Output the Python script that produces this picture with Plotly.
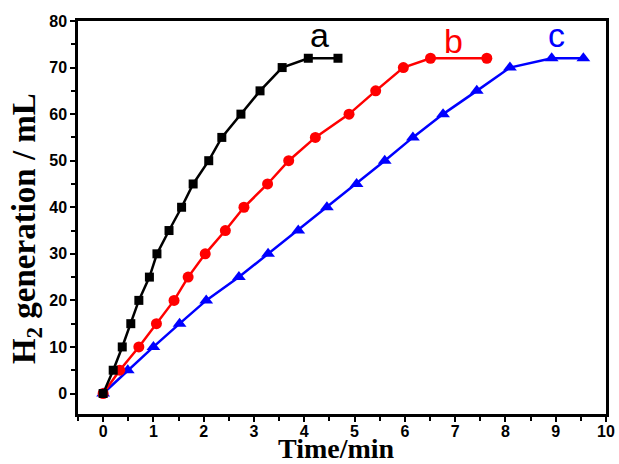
import plotly.graph_objects as go

y_vals = [0, 5, 10, 15, 20, 25, 30, 35, 40, 45, 50, 55, 60, 65, 70, 72, 72]
x_a = [0, 0.2, 0.38, 0.55, 0.71, 0.92, 1.07, 1.31, 1.56, 1.79, 2.1, 2.36, 2.74, 3.12, 3.56, 4.08, 4.67]
x_b = [0, 0.33, 0.71, 1.06, 1.41, 1.69, 2.03, 2.43, 2.8, 3.27, 3.69, 4.22, 4.89, 5.42, 5.97, 6.51, 7.63]
x_c = [0, 0.49, 1.0, 1.52, 2.05, 2.7, 3.28, 3.88, 4.45, 5.04, 5.6, 6.16, 6.76, 7.43, 8.09, 8.92, 9.55]

labels = ["a", "b", "c"]
label_x = [4.31, 6.97, 9.02]
label_y = [76.9, 75.8, 77.1]
colors = ["black", "red", "blue"]

fig = go.Figure()
fig.add_trace(go.Scatter(x=x_c, y=y_vals, mode="lines+markers",
                         line=dict(color="blue", width=2.5),
                         marker=dict(symbol="triangle-up", size=12, color="blue")))
fig.add_trace(go.Scatter(x=x_b, y=y_vals, mode="lines+markers",
                         line=dict(color="red", width=2.5),
                         marker=dict(symbol="circle", size=11, color="red")))
fig.add_trace(go.Scatter(x=x_a, y=y_vals, mode="lines+markers",
                         line=dict(color="black", width=2.5),
                         marker=dict(symbol="square", size=9, color="black")))

for t, lx, ly, c in zip(labels, label_x, label_y, colors):
    fig.add_annotation(x=lx, y=ly, text=t, showarrow=False,
                       font=dict(family="Liberation Sans, Arial", size=34, color=c))

title_font = dict(family="Liberation Serif, Times New Roman", color="black", weight="bold")

# y-axis title placed as rotated annotation
fig.add_annotation(x=-0.0985, y=0.473, xref="paper", yref="paper",
                   text="H<sub>2</sub> generation / mL", textangle=-90, showarrow=False,
                   xanchor="center", yanchor="middle",
                   font=dict(size=33, **title_font))

# x-axis title placed as annotation
fig.add_annotation(x=0.489, y=0, xref="paper", yref="paper",
                   text="Time/min", showarrow=False,
                   xanchor="center", yanchor="top", yshift=-17,
                   font=dict(size=28, **title_font))

axis_common = dict(showgrid=False, zeroline=False, showline=True, linecolor="black",
                   linewidth=2.5, mirror=True, ticks="outside", tickwidth=2, ticklen=5,
                   tickcolor="black", automargin=False,
                   tickfont=dict(family="Liberation Sans, Arial", size=16, color="black",
                                 weight="bold"))

fig.update_layout(
    width=619, height=464,
    margin=dict(l=78, r=13, t=21, b=50),
    paper_bgcolor="white", plot_bgcolor="white",
    showlegend=False,
    xaxis=dict(range=[-0.5, 10], tickmode="linear", tick0=0, dtick=1,
               ticklabelstandoff=-4,
               minor=dict(ticks="outside", dtick=0.5, tick0=0, ticklen=4, tickwidth=2, tickcolor="black"),
               **axis_common),
    yaxis=dict(range=[-4.4, 80], tickmode="linear", tick0=0, dtick=10,
               minor=dict(ticks="outside", dtick=5, tick0=0, ticklen=4, tickwidth=2, tickcolor="black"),
               **axis_common),
)

fig.write_html("out.html", config={"displayModeBar": False},
               post_script="document.body.style.margin='0';document.body.style.overflow='hidden';")
